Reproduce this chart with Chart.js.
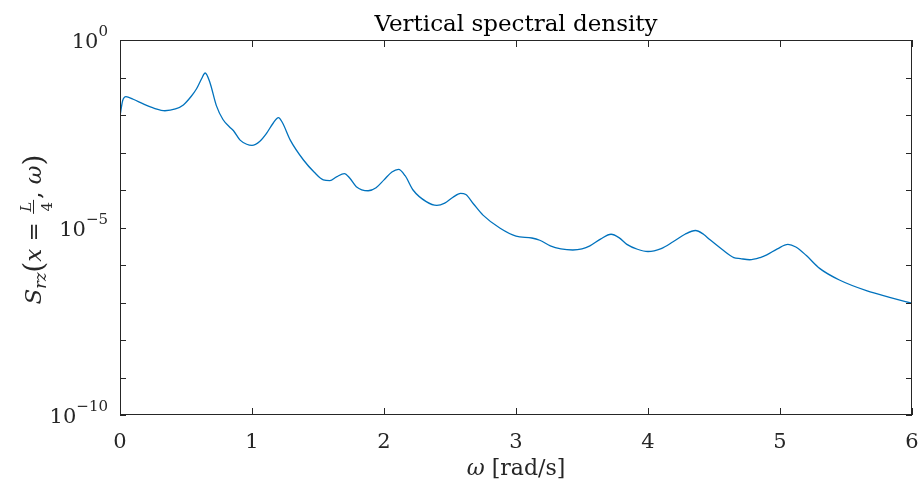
<!DOCTYPE html>
<html>
<head>
<meta charset="utf-8">
<script src="https://cdn.jsdelivr.net/npm/chart.js@4.4.1/dist/chart.umd.min.js"></script>
<style>
  html, body { margin: 0; padding: 0; background: #fff; }
  #wrap { width: 922px; height: 489px; position: relative; }
</style>
</head>
<body>
<div id="wrap"><canvas id="spectrum"></canvas></div>
<script>
// frequency [rad/s]
const omega = [
  0, 0.02, 0.045, 0.1, 0.18, 0.26, 0.34, 0.42, 0.48, 0.54, 0.58, 0.62, 0.645, 0.68,
  0.73, 0.78, 0.83, 0.86, 0.91, 0.96, 1.0, 1.06, 1.11, 1.16, 1.2, 1.23, 1.29, 1.39,
  1.47, 1.54, 1.59, 1.64, 1.7, 1.74, 1.79, 1.88, 1.94, 2.0, 2.06, 2.11, 2.16, 2.22,
  2.32, 2.4, 2.46, 2.52, 2.58, 2.62, 2.68, 2.75, 2.88, 3.0, 3.12, 3.18, 3.26, 3.34,
  3.43, 3.5, 3.56, 3.64, 3.72, 3.78, 3.84, 3.92, 4.0, 4.1, 4.19, 4.28, 4.36, 4.42,
  4.47, 4.56, 4.65, 4.7, 4.77, 4.85, 4.9, 4.98, 5.06, 5.12, 5.2, 5.3, 5.45, 5.66,
  5.83, 6.0
];
// S_rz(x = L/4, omega)
const density = [
  9.33e-3, 0.024, 0.0309, 0.0263, 0.0195, 0.0151, 0.0130, 0.0145, 0.0186, 0.0316, 0.0501, 0.0955, 0.132, 0.0759,
  0.0178, 7.59e-3, 4.79e-3, 3.80e-3, 2.14e-3, 1.66e-3, 1.55e-3, 2.0e-3, 3.24e-3, 6.03e-3, 8.51e-3, 6.31e-3, 2.14e-3, 6.31e-4,
  3.02e-4, 1.86e-4, 1.78e-4, 2.24e-4, 2.75e-4, 2.09e-4, 1.23e-4, 9.55e-5, 1.15e-4, 1.86e-4, 3.02e-4, 3.55e-4, 2.40e-4, 1.0e-4,
  4.90e-5, 3.89e-5, 4.47e-5, 6.31e-5, 8.13e-5, 7.59e-5, 4.17e-5, 2.14e-5, 9.55e-6, 5.89e-6, 5.25e-6, 4.57e-6, 3.24e-6, 2.69e-6,
  2.51e-6, 2.69e-6, 3.24e-6, 4.90e-6, 6.61e-6, 5.37e-6, 3.55e-6, 2.63e-6, 2.29e-6, 2.75e-6, 4.17e-6, 6.61e-6, 8.32e-6, 6.61e-6,
  4.68e-6, 2.63e-6, 1.58e-6, 1.48e-6, 1.38e-6, 1.58e-6, 1.86e-6, 2.69e-6, 3.55e-6, 3.02e-6, 1.78e-6, 8.13e-7, 3.98e-7, 2.04e-7,
  1.38e-7, 9.55e-8
];
const xTicks = [0, 1, 2, 3, 4, 5, 6];
const yTicks = [1, 1e-1, 1e-2, 1e-3, 1e-4, 1e-5, 1e-6, 1e-7, 1e-8, 1e-9, 1e-10];
const yLabelled = { 1: '0', 1e-5: '\u22125', 1e-10: '\u221210' };

const SERIF = '"DejaVu Serif", "Liberation Serif", serif';
const AXIS = '#262626';

const matlabAxes = {
  id: 'matlabAxes',
  afterDraw(chart) {
    const { ctx, chartArea: a, scales } = chart;
    const xs = scales.x, ys = scales.y;
    ctx.save();
    // box
    ctx.strokeStyle = AXIS;
    ctx.lineWidth = 1;
    ctx.strokeRect(Math.round(a.left) + 0.5, Math.round(a.top) + 0.5,
      Math.round(a.right - a.left) - 1, Math.round(a.bottom - a.top) - 1);
    // inward ticks on all four sides
    ctx.beginPath();
    xTicks.forEach((v) => {
      const px = Math.round(xs.getPixelForValue(v)) + 0.5;
      ctx.moveTo(px, a.bottom); ctx.lineTo(px, a.bottom - 7);
      ctx.moveTo(px, a.top); ctx.lineTo(px, a.top + 7);
    });
    yTicks.forEach((v) => {
      const py = Math.round(ys.getPixelForValue(v)) + 0.5;
      ctx.moveTo(a.left, py); ctx.lineTo(a.left + 6, py);
      ctx.moveTo(a.right, py); ctx.lineTo(a.right - 6, py);
    });
    ctx.stroke();

    ctx.fillStyle = AXIS;
    ctx.textBaseline = 'alphabetic';

    // x tick labels
    ctx.textAlign = 'center';
    ctx.font = '21px ' + SERIF;
    xTicks.forEach((v) => {
      ctx.fillText(String(v), xs.getPixelForValue(v), 448);
    });

    // y tick labels 10^n
    yTicks.forEach((v) => {
      const exp = yLabelled[v];
      if (exp === undefined) return;
      const py = ys.getPixelForValue(v);
      ctx.font = '15px ' + SERIF;
      const ew = ctx.measureText(exp).width;
      ctx.font = '21px ' + SERIF;
      const bw = ctx.measureText('10').width;
      const right = a.left - 12;
      ctx.textAlign = 'left';
      ctx.fillText('10', right - ew - bw, py + 8);
      ctx.font = '15px ' + SERIF;
      ctx.fillText(exp, right - ew, py - 4);
    });

    // title
    ctx.textAlign = 'center';
    ctx.font = '23px ' + SERIF;
    ctx.fillStyle = '#000';
    ctx.fillText('Vertical spectral density', (a.left + a.right) / 2, 31);

    // x label: omega [rad/s]
    const cx = (a.left + a.right) / 2;
    ctx.font = 'italic 22px ' + SERIF;
    const w1 = ctx.measureText('\u03c9').width;
    ctx.font = '22px ' + SERIF;
    const w2 = ctx.measureText(' [rad/s]').width;
    const x0 = cx - (w1 + w2) / 2;
    ctx.textAlign = 'left';
    ctx.fillStyle = AXIS;
    ctx.font = 'italic 22px ' + SERIF;
    ctx.fillText('\u03c9', x0, 475);
    ctx.font = '22px ' + SERIF;
    ctx.fillText(' [rad/s]', x0 + w1, 475);

    // y label: S_rz(x = L/4, omega), rotated
    const parts = [
      { t: 'S', f: 'italic 23px', dy: 0 },
      { t: 'rz', f: 'italic 16px', dy: 5 },
      { t: '(', f: '28px', dy: 2 },
      { t: 'x', f: 'italic 23px', dy: 0 },
      { t: ' = ', f: '23px', dy: 0 },
      { frac: true, w: 16 },
      { t: ', ', f: '23px', dy: 0 },
      { t: '\u03c9', f: 'italic 23px', dy: 0 },
      { t: ')', f: '28px', dy: 2 },
    ];
    let total = 0;
    parts.forEach((p) => {
      if (p.frac) { total += p.w; return; }
      ctx.font = p.f + ' ' + SERIF;
      p.w = ctx.measureText(p.t).width;
      total += p.w;
    });
    ctx.translate(41, (a.top + a.bottom) / 2 + 2);
    ctx.rotate(-Math.PI / 2);
    let lx = -total / 2;
    parts.forEach((p) => {
      if (p.frac) {
        const mid = lx + p.w / 2;
        ctx.textAlign = 'center';
        ctx.font = 'italic 15px ' + SERIF;
        ctx.fillText('L', mid, -10);
        ctx.font = '15px ' + SERIF;
        ctx.fillText('4', mid, 11);
        ctx.fillRect(lx + 1, -8, p.w - 2, 1);
        ctx.textAlign = 'left';
      } else {
        ctx.font = p.f + ' ' + SERIF;
        ctx.fillText(p.t, lx, p.dy);
      }
      lx += p.w;
    });
    ctx.restore();
  },
};

const ctx = document.getElementById('spectrum').getContext('2d');
const chart = new Chart(ctx, {
  type: 'line',
  data: {
    datasets: [
      {
        data: omega.map((w, i) => ({ x: w, y: density[i] })),
        borderColor: '#0072BD',
        borderWidth: 1.3,
        pointRadius: 0,
        fill: false,
        cubicInterpolationMode: 'monotone',
      },
    ],
  },
  options: {
    responsive: true,
    maintainAspectRatio: false,
    animation: false,
    layout: { padding: { top: 40, right: 10, left: 0, bottom: 0 } },
    plugins: { legend: { display: false }, tooltip: { enabled: false } },
    scales: {
      x: {
        type: 'linear',
        min: 0,
        max: 6,
        afterBuildTicks: (s) => { s.ticks = xTicks.map((v) => ({ value: v })); },
        afterFit: (s) => { s.height = 74; },
        grid: { display: false, drawTicks: false },
        border: { display: false },
        ticks: { display: false },
      },
      y: {
        type: 'logarithmic',
        min: 1e-10,
        max: 1,
        afterBuildTicks: (s) => { s.ticks = yTicks.map((v) => ({ value: v })); },
        afterFit: (s) => { s.width = 120; },
        grid: { display: false, drawTicks: false },
        border: { display: false },
        ticks: { display: false },
      },
    },
  },
  plugins: [matlabAxes],
});
</script>
</body>
</html>
